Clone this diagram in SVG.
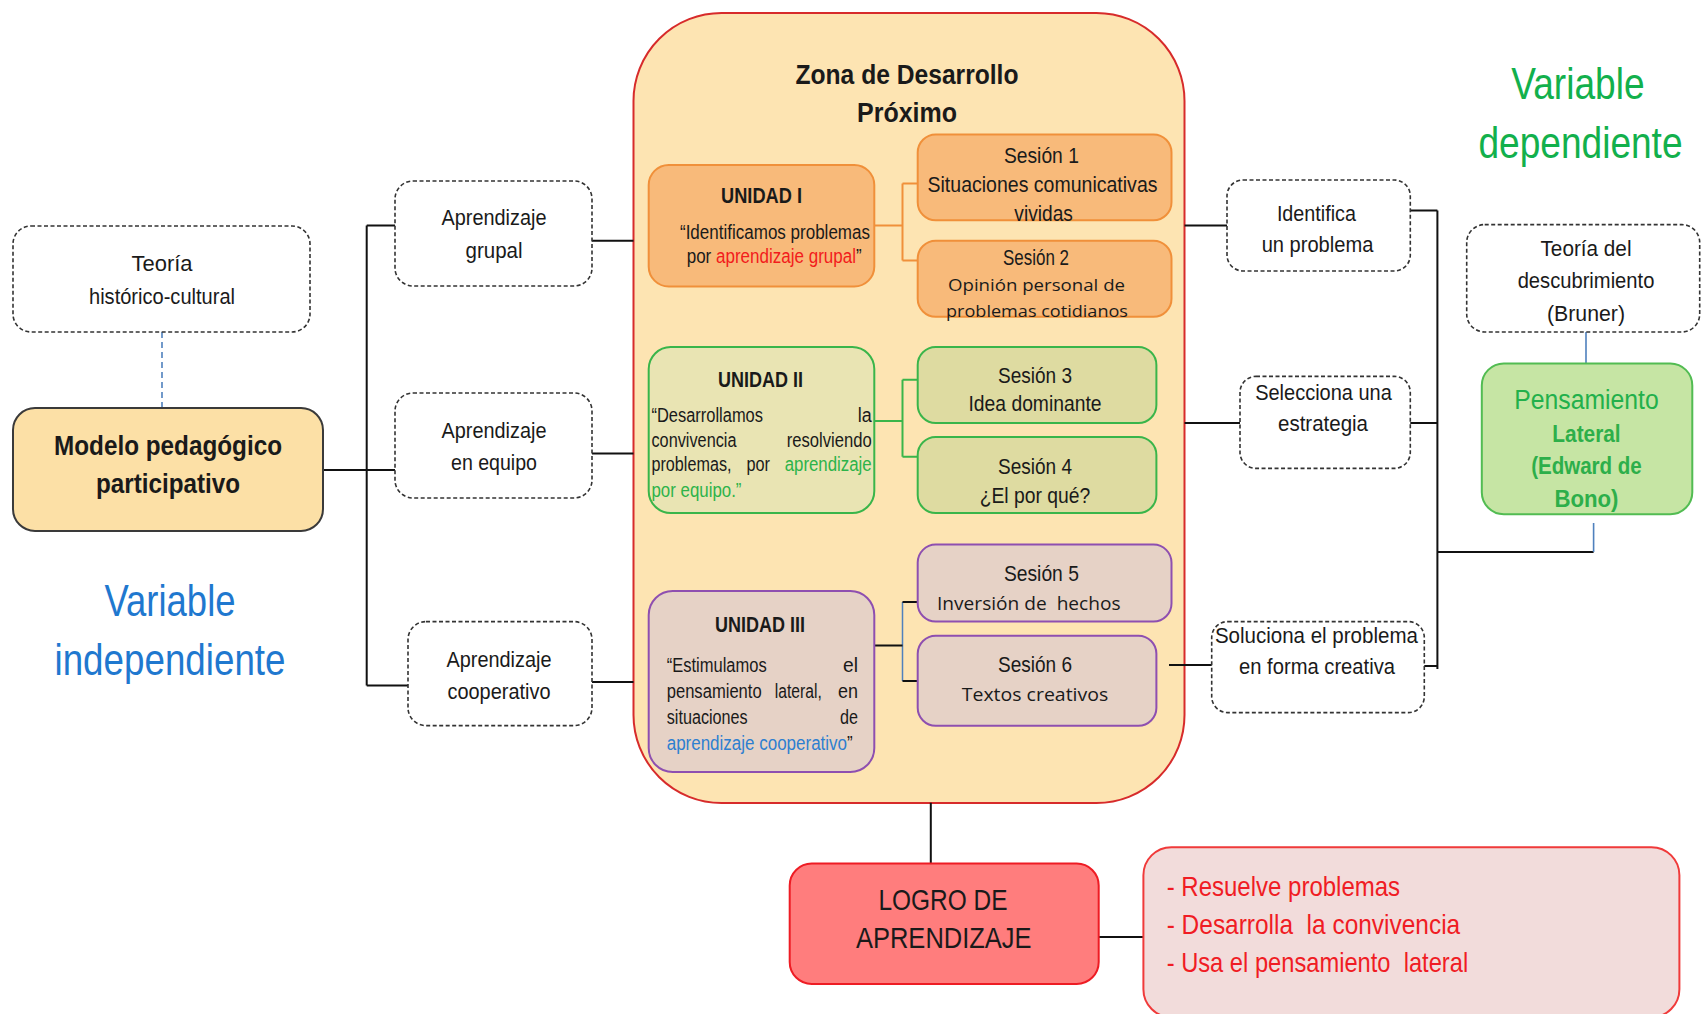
<svg xmlns="http://www.w3.org/2000/svg" width="1701" height="1014" viewBox="0 0 1701 1014">
<style>
text{font-family:"Liberation Sans Narrow","Arial Narrow","Liberation Sans",Arial,sans-serif;fill:#1a1a1a}
.c{text-anchor:middle}
.e{text-anchor:end}
.s22{font-size:22px}
.s20{font-size:20px}
.b{font-weight:bold}
.cal{font-family:"Open Sans","Liberation Sans",Arial,sans-serif}
.dash{fill:#fff;stroke:#333;stroke-width:1.6;stroke-dasharray:4 2.5}
.ln{stroke:#111;stroke-width:2;fill:none}
.o1{fill:#F8BA7A;stroke:#F0903A;stroke-width:2}
.g1{fill:#E9E4B3;stroke:#3AB54A;stroke-width:2}
.g2{fill:#DEDBA1;stroke:#3AB54A;stroke-width:2}
.p1{fill:#E6D2C6;stroke:#8E4FB0;stroke-width:2}
.red{fill:#F01C24}
</style>
<rect x="0" y="0" width="1701" height="1014" fill="#fff"/>

<g id="zdp">
<rect x="633.5" y="13" width="551" height="790" rx="88" fill="#FDE4B2" stroke="#D72B2B" stroke-width="2"/>
<text class="c b" x="907" y="84" font-size="27" textLength="223" lengthAdjust="spacingAndGlyphs">Zona de Desarrollo</text>
<text class="c b" x="907" y="122" font-size="27" textLength="100" lengthAdjust="spacingAndGlyphs">Próximo</text>
</g>

<g id="connectors">
<line x1="162" y1="332" x2="162" y2="408" stroke="#4F81BD" stroke-width="1.6" stroke-dasharray="6 4"/>
<path class="ln" d="M323,470 H366.7 M366.7,225.6 V685.6 M366.7,225.6 H395 M366.7,470 H395 M366.7,685.6 H408"/>
<path class="ln" d="M592,240.8 H633.5 M592,453.5 H633.5 M592,682 H633.5"/>
<path d="M874.3,225.6 H902.5 M902.5,183.5 V260.5 M902.5,183.5 H917.7 M902.5,260.5 H917.7" fill="none" stroke="#F0903A" stroke-width="2"/>
<path d="M874.3,421 H902.5 M902.5,379.7 V456.7 M902.5,379.7 H917.7 M902.5,456.7 H917.7" fill="none" stroke="#3AB54A" stroke-width="2"/>
<path d="M902.5,602 V681" fill="none" stroke="#4F81BD" stroke-width="1.5"/>
<path class="ln" d="M874.3,645.5 H902.5 M902.5,602 H917.7 M902.5,681 H917.7"/>
<path class="ln" d="M1169,665 H1212"/>
<path class="ln" d="M1184.6,225.6 H1227 M1184.6,423 H1240"/>
<path class="ln" d="M1382,210.5 H1437.4 M1382,423 H1437.4 M1402.6,666 H1437.4 M1437.4,210.5 V669 M1437.4,552 H1593.6"/>
<path d="M1593.6,552 V523 M1586,332 V363.4" fill="none" stroke="#4F81BD" stroke-width="1.6"/>
<path class="ln" d="M930.8,802.8 V863.5 M1099,937 H1143.4"/>
</g>

<g id="teoria-hc">
<rect class="dash" x="13" y="226" width="297" height="106" rx="18"/>
<text class="c s22" x="162" y="271" textLength="61" lengthAdjust="spacingAndGlyphs">Teoría</text>
<text class="c s22" x="162" y="304" textLength="146" lengthAdjust="spacingAndGlyphs">histórico-cultural</text>
</g>

<g id="modelo">
<rect x="13" y="408" width="310" height="123" rx="22" fill="#FCE0A6" stroke="#3A3A3A" stroke-width="2"/>
<text class="c b" x="168" y="455" font-size="28" textLength="228" lengthAdjust="spacingAndGlyphs">Modelo pedagógico</text>
<text class="c b" x="168" y="493" font-size="28" textLength="144" lengthAdjust="spacingAndGlyphs">participativo</text>
</g>

<g id="var-indep">
<text class="c" x="170" y="616" font-size="45" style="fill:#1F78CF" textLength="131" lengthAdjust="spacingAndGlyphs">Variable</text>
<text class="c" x="170" y="675" font-size="45" style="fill:#1F78CF" textLength="231" lengthAdjust="spacingAndGlyphs">independiente</text>
</g>

<g id="ap-grupal">
<rect class="dash" x="395" y="181" width="197" height="105" rx="18"/>
<text class="c s22" x="494" y="225" textLength="105" lengthAdjust="spacingAndGlyphs">Aprendizaje</text>
<text class="c s22" x="494" y="257.5" textLength="57" lengthAdjust="spacingAndGlyphs">grupal</text>
</g>
<g id="ap-equipo">
<rect class="dash" x="395" y="393" width="197" height="105" rx="18"/>
<text class="c s22" x="494" y="437.6" textLength="105" lengthAdjust="spacingAndGlyphs">Aprendizaje</text>
<text class="c s22" x="494" y="470" textLength="86" lengthAdjust="spacingAndGlyphs">en equipo</text>
</g>
<g id="ap-coop">
<rect class="dash" x="408" y="621.6" width="184" height="104" rx="18"/>
<text class="c s22" x="499" y="666.5" textLength="105" lengthAdjust="spacingAndGlyphs">Aprendizaje</text>
<text class="c s22" x="499" y="699" textLength="103" lengthAdjust="spacingAndGlyphs">cooperativo</text>
</g>

<g id="unidad1">
<rect class="o1" x="648.7" y="165" width="225.6" height="121.5" rx="20"/>
<text class="c b s22" x="761.5" y="203" textLength="81" lengthAdjust="spacingAndGlyphs">UNIDAD I</text>
<g transform="translate(648.7,0) scale(0.8,1)">
<text class="s20" x="39.1" y="239.5" textLength="237.5" lengthAdjust="spacingAndGlyphs">“Identificamos problemas</text>
<text class="s20" x="47.5" y="263.5" textLength="218.75" lengthAdjust="spacingAndGlyphs">por <tspan style="fill:#F21C1C">aprendizaje grupal</tspan>”</text>
</g>
</g>
<g id="sesion1">
<rect class="o1" x="917.7" y="134.5" width="253.8" height="85.7" rx="18"/>
<text class="c s22" x="1041.4" y="163" textLength="75" lengthAdjust="spacingAndGlyphs">Sesión 1</text>
<text class="s22" x="927.5" y="192" textLength="230" lengthAdjust="spacingAndGlyphs">Situaciones comunicativas</text>
<text class="c s22" x="1043.6" y="221" textLength="58.6" lengthAdjust="spacingAndGlyphs">vividas</text>
</g>
<g id="sesion2">
<rect class="o1" x="917.7" y="240.8" width="253.8" height="76" rx="18"/>
<text class="c s22" x="1036" y="265" textLength="66" lengthAdjust="spacingAndGlyphs">Sesión 2</text>
<text class="cal" x="948" y="291" font-size="17" textLength="177" lengthAdjust="spacingAndGlyphs">Opinión personal de</text>
<text class="cal" x="946" y="317" font-size="17" textLength="182" lengthAdjust="spacingAndGlyphs">problemas cotidianos</text>
</g>

<g id="unidad2">
<rect class="g1" x="648.7" y="347" width="225.6" height="166" rx="22"/>
<text class="c b s22" x="760.5" y="387" textLength="85" lengthAdjust="spacingAndGlyphs">UNIDAD II</text>
<g transform="translate(648.7,0) scale(0.8,1)">
<text class="s20" x="3.5" y="421.7" textLength="139.4" lengthAdjust="spacingAndGlyphs">“Desarrollamos</text>
<text class="s20 e" x="278.75" y="421.7" textLength="17.5" lengthAdjust="spacingAndGlyphs">la</text>
<text class="s20" x="3.5" y="446.7" textLength="106.25" lengthAdjust="spacingAndGlyphs">convivencia</text>
<text class="s20 e" x="278.75" y="446.7" textLength="106.25" lengthAdjust="spacingAndGlyphs">resolviendo</text>
<text class="s20" x="3.5" y="471" textLength="100" lengthAdjust="spacingAndGlyphs">problemas,</text>
<text class="s20 c" x="137" y="471" textLength="29.4" lengthAdjust="spacingAndGlyphs">por</text>
<text class="s20 e" x="278.75" y="471" style="fill:#2DB34A" textLength="108.75" lengthAdjust="spacingAndGlyphs">aprendizaje</text>
<text class="s20" x="3.5" y="497" style="fill:#2DB34A" textLength="112.5" lengthAdjust="spacingAndGlyphs">por equipo.”</text>
</g>
</g>
<g id="sesion3">
<rect class="g2" x="917.7" y="347" width="238.7" height="76" rx="18"/>
<text class="c s22" x="1035" y="383" textLength="74" lengthAdjust="spacingAndGlyphs">Sesión 3</text>
<text class="c s22" x="1035" y="411" textLength="133" lengthAdjust="spacingAndGlyphs">Idea dominante</text>
</g>
<g id="sesion4">
<rect class="g2" x="917.7" y="437" width="238.7" height="76" rx="18"/>
<text class="c s22" x="1035" y="474" textLength="74" lengthAdjust="spacingAndGlyphs">Sesión 4</text>
<text class="c s22" x="1035" y="503" textLength="110.6" lengthAdjust="spacingAndGlyphs">¿El por qué?</text>
</g>

<g id="unidad3">
<rect class="p1" x="648.7" y="591" width="225.6" height="181" rx="24"/>
<text class="c b s22" x="760" y="631.5" textLength="90" lengthAdjust="spacingAndGlyphs">UNIDAD III</text>
<g transform="translate(648.7,0) scale(0.8,1)">
<text class="s20" x="22.5" y="672" textLength="125" lengthAdjust="spacingAndGlyphs">“Estimulamos</text>
<text class="s20 e" x="261.6" y="672" textLength="18.75" lengthAdjust="spacingAndGlyphs">el</text>
<text class="s20" x="22.5" y="698" textLength="118.75" lengthAdjust="spacingAndGlyphs">pensamiento</text>
<text class="s20 c" x="187" y="698" textLength="58.75" lengthAdjust="spacingAndGlyphs">lateral,</text>
<text class="s20 e" x="261.6" y="698" textLength="25" lengthAdjust="spacingAndGlyphs">en</text>
<text class="s20" x="22.5" y="724" textLength="101.25" lengthAdjust="spacingAndGlyphs">situaciones</text>
<text class="s20 e" x="261.6" y="724" textLength="22.5" lengthAdjust="spacingAndGlyphs">de</text>
<text class="s20" x="22.5" y="750" textLength="232.5" lengthAdjust="spacingAndGlyphs"><tspan style="fill:#2E7FD0">aprendizaje cooperativo</tspan>”</text>
</g>
</g>
<g id="sesion5">
<rect class="p1" x="917.7" y="544.6" width="253.8" height="77" rx="18"/>
<text class="c s22" x="1041.4" y="580.5" textLength="75" lengthAdjust="spacingAndGlyphs">Sesión 5</text>
<text class="cal" x="937" y="609.5" font-size="19" textLength="183.6" lengthAdjust="spacingAndGlyphs">Inversión de&#160; hechos</text>
</g>
<g id="sesion6">
<rect class="p1" x="917.7" y="635.7" width="238.7" height="90" rx="18"/>
<text class="c s22" x="1035" y="671.5" textLength="74" lengthAdjust="spacingAndGlyphs">Sesión 6</text>
<text class="c cal" x="1035" y="700.5" font-size="19" textLength="146.5" lengthAdjust="spacingAndGlyphs">Textos creativos</text>
</g>

<g id="identifica">
<rect class="dash" x="1227" y="180" width="183.3" height="91" rx="16"/>
<text class="c s22" x="1316.4" y="220.6" textLength="79" lengthAdjust="spacingAndGlyphs">Identifica</text>
<text class="c s22" x="1317.5" y="252" textLength="111.7" lengthAdjust="spacingAndGlyphs">un problema</text>
</g>
<g id="selecciona">
<rect class="dash" x="1240" y="376.4" width="170.3" height="92" rx="16"/>
<text class="c s22" x="1323.5" y="399.6" textLength="136.7" lengthAdjust="spacingAndGlyphs">Selecciona una</text>
<text class="c s22" x="1323" y="431" textLength="90" lengthAdjust="spacingAndGlyphs">estrategia</text>
</g>
<g id="soluciona">
<rect class="dash" x="1211.7" y="621.6" width="212.6" height="91" rx="16"/>
<text class="c s22" x="1316.4" y="642.6" textLength="203" lengthAdjust="spacingAndGlyphs">Soluciona el problema</text>
<text class="c s22" x="1317" y="674" textLength="156" lengthAdjust="spacingAndGlyphs">en forma creativa</text>
</g>

<g id="var-dep">
<text class="e" x="1644.6" y="99" font-size="45" style="fill:#12B04C" textLength="133.4" lengthAdjust="spacingAndGlyphs">Variable</text>
<text class="e" transform="translate(1682.5,158) scale(1,1.12)" x="0" y="0" font-size="40" style="fill:#12B04C" textLength="204" lengthAdjust="spacingAndGlyphs">dependiente</text>
</g>

<g id="teoria-desc">
<rect class="dash" x="1466.7" y="224.6" width="233" height="107.4" rx="18"/>
<text class="c s22" x="1586" y="256" textLength="91" lengthAdjust="spacingAndGlyphs">Teoría del</text>
<text class="c s22" x="1586" y="288" textLength="136.7" lengthAdjust="spacingAndGlyphs">descubrimiento</text>
<text class="c s22" x="1586" y="321" textLength="78" lengthAdjust="spacingAndGlyphs">(Bruner)</text>
</g>

<g id="pensamiento">
<rect x="1481.8" y="363.4" width="210.5" height="150.8" rx="22" fill="#C6E5A4" stroke="#52BC52" stroke-width="2"/>
<text class="c" x="1586.5" y="409" font-size="27" style="fill:#22B04B" textLength="144.3" lengthAdjust="spacingAndGlyphs">Pensamiento</text>
<text class="c b" x="1586.5" y="442" font-size="24" style="fill:#2DAF4A" textLength="68.3" lengthAdjust="spacingAndGlyphs">Lateral</text>
<text class="c b" x="1586.5" y="474" font-size="24" style="fill:#2DAF4A" textLength="110.6" lengthAdjust="spacingAndGlyphs">(Edward de</text>
<text class="c b" x="1586.5" y="507" font-size="24" style="fill:#2DAF4A" textLength="64" lengthAdjust="spacingAndGlyphs">Bono)</text>
</g>

<g id="logro">
<rect x="789.7" y="863.5" width="309" height="120.4" rx="22" fill="#FF7D7D" stroke="#EE1C24" stroke-width="2"/>
<text class="c" x="943" y="910" font-size="30" textLength="129" lengthAdjust="spacingAndGlyphs">LOGRO DE</text>
<text class="c" x="943.8" y="948" font-size="30" textLength="175.7" lengthAdjust="spacingAndGlyphs">APRENDIZAJE</text>
</g>

<g id="resultados">
<rect x="1143.4" y="847.2" width="536" height="170" rx="28" fill="#F2DCDB" stroke="#F03A3A" stroke-width="2"/>
<text class="red" x="1166.7" y="895.5" font-size="28" style="fill:#F01C24" textLength="233.4" lengthAdjust="spacingAndGlyphs">- Resuelve problemas</text>
<text class="red" x="1166.7" y="933.5" font-size="28" style="fill:#F01C24" textLength="293.5" lengthAdjust="spacingAndGlyphs">- Desarrolla&#160; la convivencia</text>
<text class="red" x="1166.7" y="972" font-size="28" style="fill:#F01C24" textLength="301.5" lengthAdjust="spacingAndGlyphs">- Usa el pensamiento&#160; lateral</text>
</g>
</svg>
